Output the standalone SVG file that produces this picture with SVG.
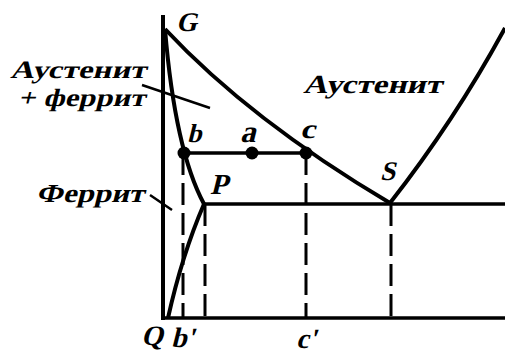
<svg xmlns="http://www.w3.org/2000/svg" width="505" height="356" viewBox="0 0 505 356">
<style>
.ln{fill:none;stroke:#000;stroke-width:4;stroke-linecap:butt;stroke-linejoin:round}
.th{fill:none;stroke:#000;stroke-width:3.5}
.ds{fill:none;stroke:#000;stroke-width:3;stroke-dasharray:22 8}
.ld{fill:none;stroke:#000;stroke-width:2.5}
.t{font-family:"Liberation Serif",serif;font-weight:bold;fill:#000}
</style>
<rect width="505" height="356" fill="#fff"/>
<g id="connectors">
<path class="ln" d="M163,15 V320"/>
<path class="th" d="M161,318 H505"/>
<path class="th" d="M204,204 H505"/>
<path class="th" d="M183,153 H306"/>
<path class="ln" d="M165,29 Q250,120 390,203"/>
<path class="ln" d="M165,29 Q175,150 204,204"/>
<path class="ln" d="M204,204 Q182,255 168,318"/>
<path class="ln" d="M390,203 Q455,120 505,28"/>
<path class="ds" d="M183,153 V318"/>
<path class="ds" d="M205,204 V318"/>
<path class="ds" d="M306,153 V318"/>
<path class="ds" d="M391,204 V318"/>
<path class="ld" d="M142,85 L210,108"/>
<path class="ld" d="M150,195 L172,210"/>
</g>
<g id="point-b"><circle cx="184" cy="153" r="6.5"/><text class="t" transform="translate(187,142) skewX(-14)" font-size="26">b</text></g>
<g id="point-a"><circle cx="252" cy="153" r="6.5"/><text class="t" transform="translate(240,142) skewX(-14)" font-size="31">a</text></g>
<g id="point-c"><circle cx="306" cy="153" r="6.5"/><text class="t" transform="translate(300,138) skewX(-14)" font-size="27" textLength="15" lengthAdjust="spacingAndGlyphs">c</text></g>
<g id="label-G"><text class="t" transform="translate(176,31) skewX(-14)" font-size="27">G</text></g>
<g id="label-S"><text class="t" transform="translate(380,180) skewX(-14)" font-size="27">S</text></g>
<g id="label-P"><text class="t" transform="translate(210,194) skewX(-14)" font-size="29">P</text></g>
<g id="label-Q"><text class="t" transform="translate(141,345) skewX(-14)" font-size="28">Q</text></g>
<g id="label-b1"><text class="t" transform="translate(171,347) skewX(-14)" font-size="28">b'</text></g>
<g id="label-c1"><text class="t" transform="translate(296,348) skewX(-14)" font-size="28">c'</text></g>
<g id="region-austenite-ferrite"><text class="t" transform="translate(10,78) skewX(-14)" font-size="25" textLength="136" lengthAdjust="spacingAndGlyphs">Аустенит</text><text class="t" transform="translate(18,106) skewX(-14)" font-size="25" textLength="127" lengthAdjust="spacingAndGlyphs">+ феррит</text></g>
<g id="region-austenite"><text class="t" transform="translate(303,93) skewX(-14)" font-size="26" textLength="139" lengthAdjust="spacingAndGlyphs">Аустенит</text></g>
<g id="region-ferrite"><text class="t" transform="translate(36,202) skewX(-14)" font-size="26" textLength="108" lengthAdjust="spacingAndGlyphs">Феррит</text></g>
</svg>
